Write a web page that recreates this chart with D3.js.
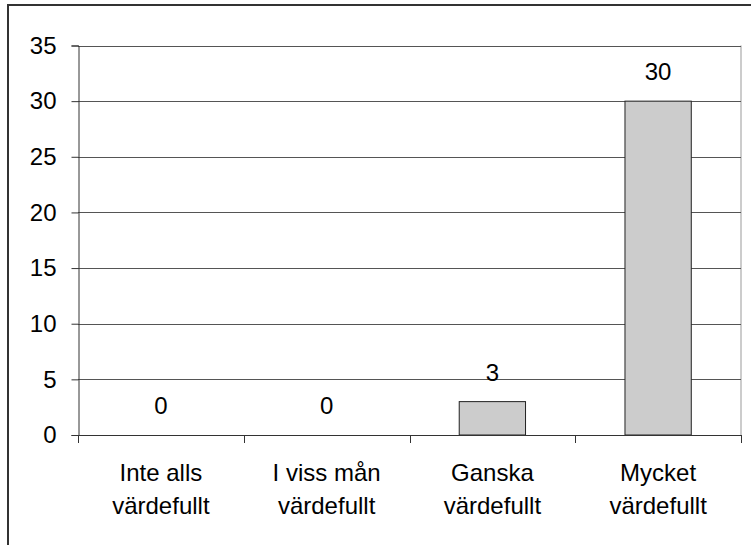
<!DOCTYPE html>
<html>
<head>
<meta charset="utf-8">
<script src="https://cdn.jsdelivr.net/npm/d3@7"></script>
<style>
  html, body { margin: 0; padding: 0; background: #fff; }
  svg { display: block; }
  text { font-family: "Liberation Sans", Arial, sans-serif; fill: #000; }
</style>
</head>
<body>
<svg id="chart" width="751" height="545"></svg>
<script>
// Answers per category
const categories = ["Inte alls värdefullt", "I viss mån värdefullt", "Ganska värdefullt", "Mycket värdefullt"];
const categoryLines = [["Inte alls", "värdefullt"], ["I viss mån", "värdefullt"], ["Ganska", "värdefullt"], ["Mycket", "värdefullt"]];
const values = [0, 0, 3, 30];
const yTicks = [0, 5, 10, 15, 20, 25, 30, 35];

const W = 751, H = 545;
const plot = { left: 78, right: 741, top: 45.5, bottom: 435 };
const fontSize = 24;

const svg = d3.select("#chart");

// Outer chart frame (continues past the right and bottom edges)
svg.append("rect")
  .attr("x", 8).attr("y", 5)
  .attr("width", W + 20).attr("height", H + 20)
  .attr("fill", "#fff")
  .attr("stroke", "#333").attr("stroke-width", 2);

const x = d3.scaleBand()
  .domain(categories)
  .range([plot.left, plot.right])
  .paddingInner(0.6)
  .paddingOuter(0.3);

const y = d3.scaleLinear()
  .domain([0, 35])
  .range([plot.bottom, plot.top]);

// Plot area right border
svg.append("line")
  .attr("x1", plot.right).attr("x2", plot.right)
  .attr("y1", plot.top).attr("y2", plot.bottom)
  .attr("stroke", "#999").attr("stroke-width", 1);

// Horizontal gridlines
svg.append("g")
  .selectAll("line")
  .data(yTicks.filter(d => d > 0))
  .join("line")
  .attr("x1", plot.left).attr("x2", plot.right)
  .attr("y1", d => Math.round(y(d)) + 0.5).attr("y2", d => Math.round(y(d)) + 0.5)
  .attr("stroke", "#555").attr("stroke-width", 1);

// Bars
svg.append("g")
  .selectAll("rect")
  .data(values.map((v, i) => ({ c: categories[i], v })))
  .join("rect")
  .attr("x", d => x(d.c))
  .attr("width", x.bandwidth())
  .attr("y", d => y(d.v))
  .attr("height", d => y(0) - y(d.v))
  .attr("fill", "#cccccc")
  .attr("stroke", "#222").attr("stroke-width", 1);

// Y axis
const yAxis = svg.append("g")
  .attr("transform", `translate(${plot.left + 0.5},0)`)
  .call(d3.axisLeft(y).tickValues(yTicks).tickSize(7).tickPadding(15).tickFormat(d3.format("d")));
yAxis.select(".domain").attr("stroke", "#333");
yAxis.selectAll(".tick line").attr("stroke", "#333");
yAxis.selectAll(".tick text")
  .attr("font-size", fontSize)
  .attr("font-family", "Liberation Sans, Arial, sans-serif")
  .attr("fill", "#000");

// X axis line with category separator ticks
const step = x.step();
const boundaries = d3.range(categories.length + 1).map(i => plot.left + i * step);
const xAxis = svg.append("g");
xAxis.append("line")
  .attr("x1", plot.left).attr("x2", plot.right)
  .attr("y1", plot.bottom + 0.5).attr("y2", plot.bottom + 0.5)
  .attr("stroke", "#333");
xAxis.selectAll("line.sep")
  .data(boundaries)
  .join("line")
  .attr("class", "sep")
  .attr("x1", d => Math.round(d) + 0.5).attr("x2", d => Math.round(d) + 0.5)
  .attr("y1", plot.bottom).attr("y2", plot.bottom + 8)
  .attr("stroke", "#333");

// Category labels (two lines)
const labels = svg.append("g")
  .selectAll("text")
  .data(categories)
  .join("text")
  .attr("text-anchor", "middle")
  .attr("font-size", fontSize)
  .attr("x", d => x(d) + x.bandwidth() / 2)
  .attr("y", plot.bottom + 46);
labels.each(function(d, i) {
  const t = d3.select(this);
  categoryLines[i].forEach((line, j) => {
    t.append("tspan")
      .attr("x", x(d) + x.bandwidth() / 2)
      .attr("dy", j === 0 ? 0 : 33)
      .text(line);
  });
});

// Value labels above bars
svg.append("g")
  .selectAll("text")
  .data(values.map((v, i) => ({ c: categories[i], v })))
  .join("text")
  .attr("text-anchor", "middle")
  .attr("font-size", fontSize)
  .attr("x", d => x(d.c) + x.bandwidth() / 2)
  .attr("y", d => y(d.v) - 21)
  .text(d => d.v);
</script>
</body>
</html>
